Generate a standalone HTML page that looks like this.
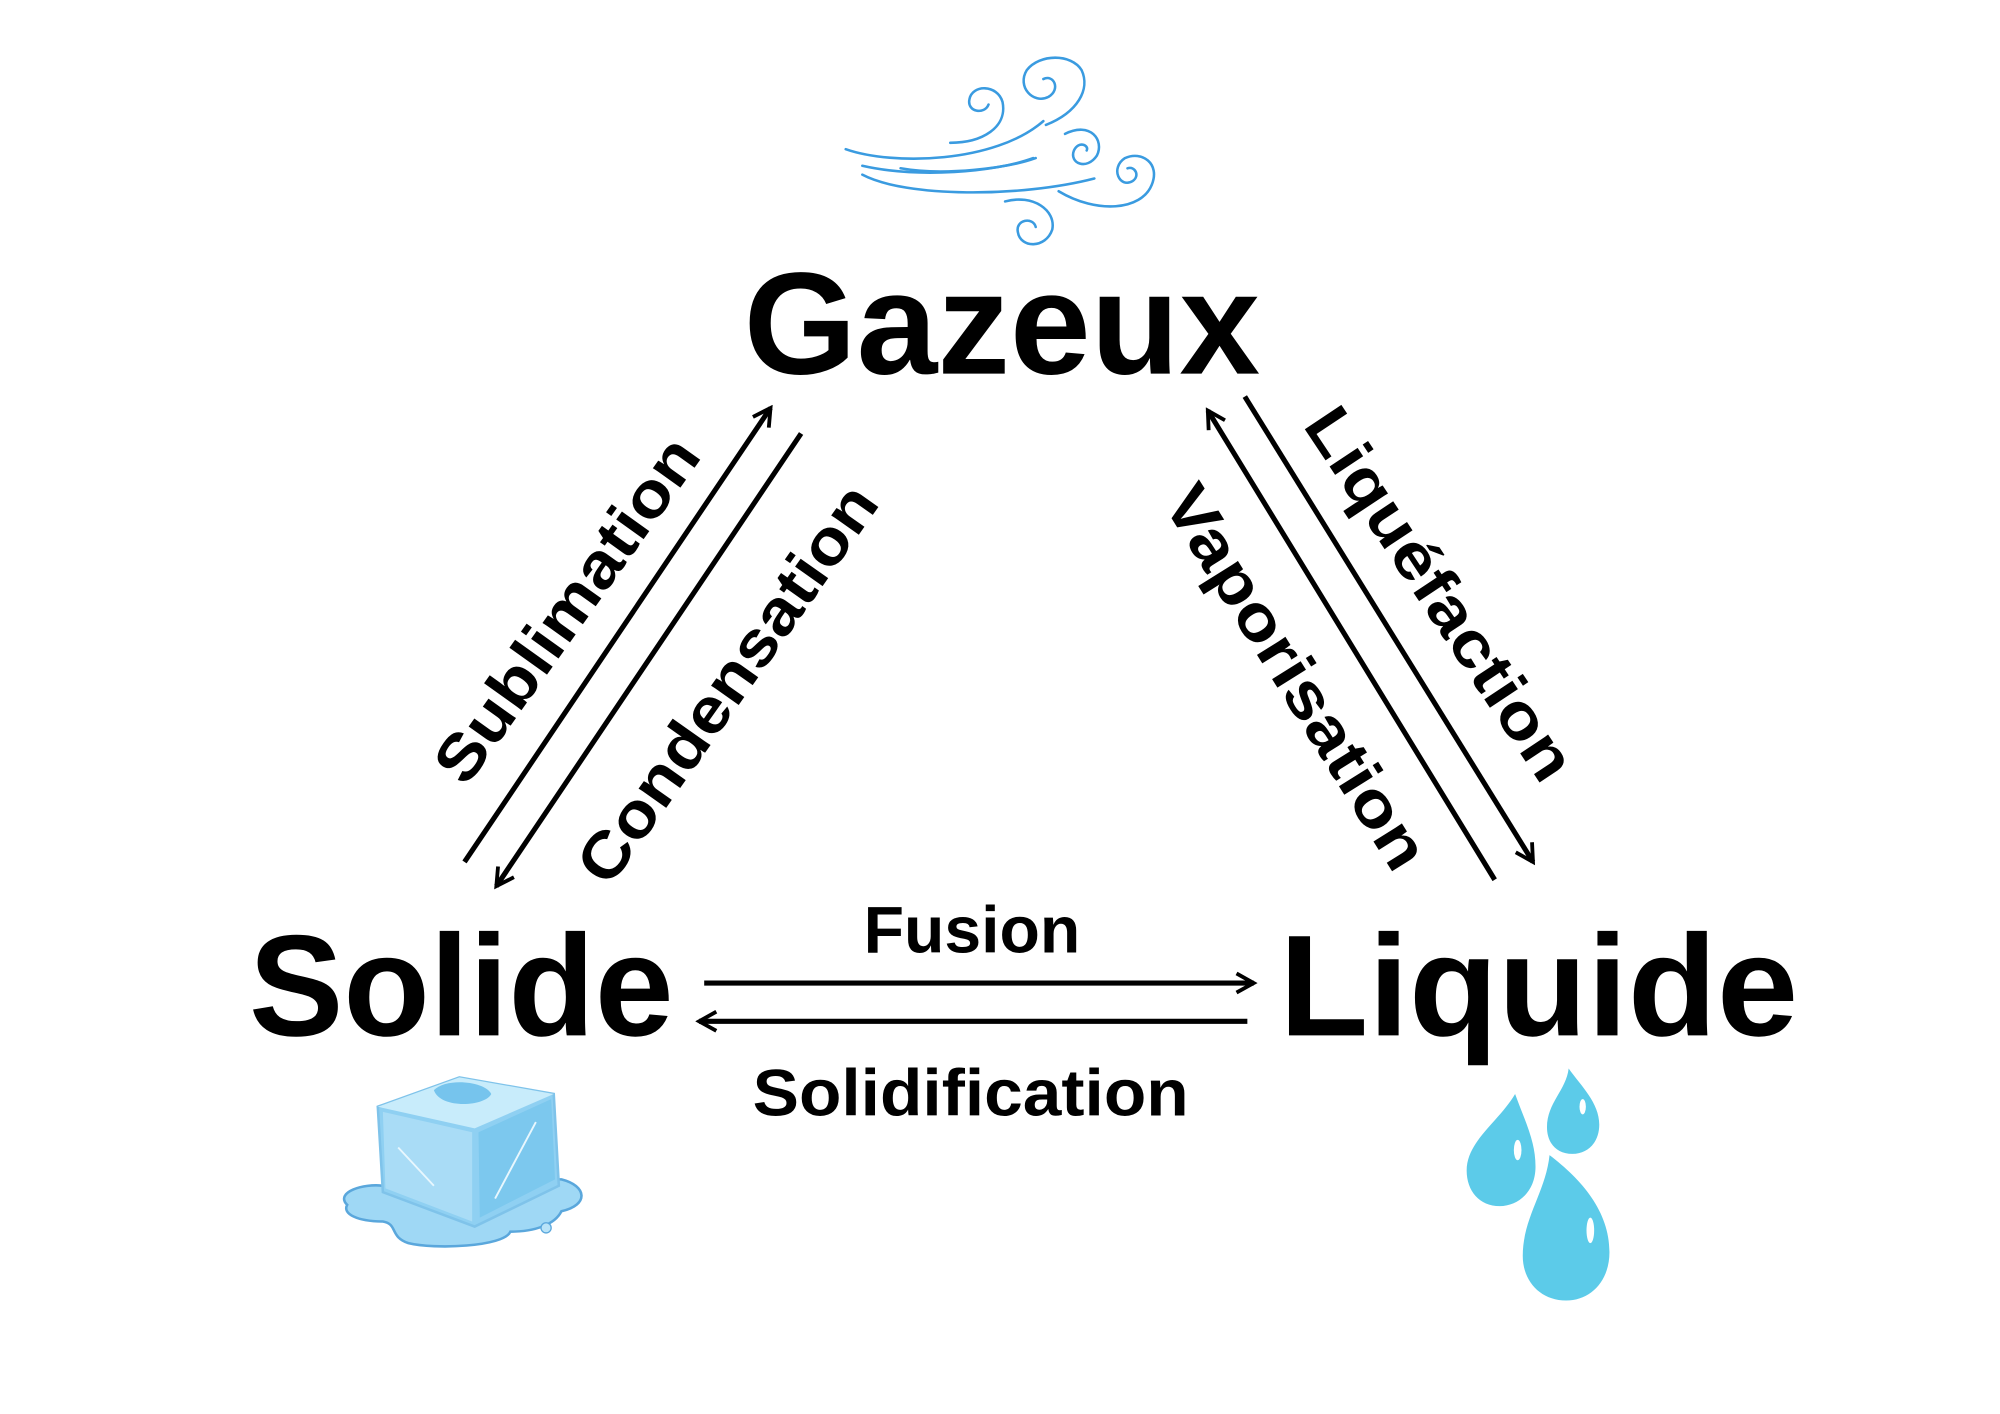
<!DOCTYPE html>
<html><head><meta charset="utf-8"><style>
html,body{margin:0;padding:0;background:#fff;}
svg{display:block;}
text{font-family:"Liberation Sans",sans-serif;font-weight:bold;fill:#000;}
</style></head><body>
<svg width="2000" height="1414" viewBox="0 0 1568 1109" xmlns="http://www.w3.org/2000/svg">
<defs>
<marker id="ah" viewBox="0 0 12 12" refX="10" refY="6" markerWidth="4.5" markerHeight="4.5" orient="auto" markerUnits="strokeWidth">
<path d="M1,1 L10,6 L1,11" fill="none" stroke="#000" stroke-width="2"/>
</marker>
</defs>
<rect width="1568" height="1109" fill="#fff"/>

<!-- wind -->
<g fill="none" stroke="#3a9be0" stroke-width="2" stroke-linecap="round">
<path d="M663,117 C700,130 780,128 818,95"/>
<path d="M676,130 C720,140 780,135 810,124"/>
<path d="M706,132 C740,138 790,132 812,124"/>
<path d="M676,137 C710,155 800,155 858,140"/>
<path d="M745,112 C770,112 790,100 786,80 C782,66 762,66 760,78 C758,88 772,90 775,82"/>
<path d="M820,98 C845,88 855,70 848,55 C840,42 815,42 805,55 C797,68 810,82 822,76 C832,70 826,58 818,62"/>
<path d="M835,105 C855,95 866,110 860,122 C852,134 838,128 842,118 C846,110 854,114 852,118"/>
<path d="M830,150 C860,168 895,165 903,145 C910,128 895,118 882,124 C870,132 878,148 888,142 C894,138 890,130 884,132"/>
<path d="M788,158 C810,152 828,165 825,180 C820,195 800,195 798,182 C796,172 810,170 812,178"/>
</g>

<!-- titles -->
<text x="583" y="293" font-size="114" textLength="405" lengthAdjust="spacingAndGlyphs">Gazeux</text>
<text x="195" y="812" font-size="113" textLength="333" lengthAdjust="spacingAndGlyphs">Solide</text>
<text x="1003" y="812" font-size="113" textLength="407" lengthAdjust="spacingAndGlyphs">Liquide</text>
<text x="677" y="747" font-size="52" textLength="170" lengthAdjust="spacingAndGlyphs">Fusion</text>
<text x="590" y="875" font-size="52" textLength="342" lengthAdjust="spacingAndGlyphs">Solidification</text>

<!-- rotated labels -->
<text font-size="50" text-anchor="middle" transform="translate(458,488) rotate(-54.5)" textLength="320" lengthAdjust="spacingAndGlyphs">Sublimation</text>
<text font-size="50" text-anchor="middle" transform="translate(584,546) rotate(-54.8)" textLength="370" lengthAdjust="spacingAndGlyphs">Condensation</text>
<text font-size="50" text-anchor="middle" transform="translate(1002,540) rotate(58)" textLength="345" lengthAdjust="spacingAndGlyphs">Vaporisation</text>
<text font-size="50" text-anchor="middle" transform="translate(1115,475) rotate(56.4)" textLength="340" lengthAdjust="spacingAndGlyphs">Liquéfaction</text>

<!-- arrows -->
<g stroke="#000" stroke-width="4" fill="none">
<line x1="364" y1="676" x2="604" y2="320" marker-end="url(#ah)"/>
<line x1="628" y1="340" x2="389" y2="695" marker-end="url(#ah)"/>
<line x1="1172" y1="690" x2="947" y2="322" marker-end="url(#ah)"/>
<line x1="976" y1="311" x2="1202" y2="676" marker-end="url(#ah)"/>
<line x1="552" y1="771" x2="983" y2="771" marker-end="url(#ah)"/>
<line x1="978" y1="801" x2="548" y2="801" marker-end="url(#ah)"/>
</g>

<!-- ice cube -->
<g>
<path d="M272,945 C262,935 285,928 300,930 L300,925 L440,925 C460,930 462,945 440,950 C435,960 420,966 400,966 C395,978 340,980 320,975 C305,970 312,960 300,958 C280,958 268,952 272,945 Z" fill="#9fd8f5" stroke="#5aa7dc" stroke-width="2"/>
<path d="M296,868 L360,845 L434,858 L438,930 L372,962 L300,935 Z" fill="#8fd0f2" stroke="#7fc3ea" stroke-width="2"/>
<path d="M296,868 L360,845 L434,858 L372,885 Z" fill="#c8ecfb"/>
<path d="M300,872 L370,888 L370,958 L302,932 Z" fill="#a9dcf6"/>
<path d="M375,888 L432,862 L435,925 L376,955 Z" fill="#7cc8ee"/>
<path d="M340,855 C350,845 380,848 385,858 C380,868 345,870 340,855 Z" fill="#76c4ed"/>
<g stroke="#e8f7fe" stroke-width="1.5"><line x1="312" y1="900" x2="340" y2="930"/><line x1="388" y1="940" x2="420" y2="880"/></g>
<circle cx="428" cy="963" r="4" fill="#b8e3f8" stroke="#5aa7dc"/>
</g>

<!-- drops -->
<g fill="#5ccbe9">
<path d="M1188,858 C1196,880 1204,895 1204,915 C1204,935 1190,946 1176,946 C1160,946 1150,934 1150,918 C1150,895 1175,880 1188,858 Z"/>
<path d="M1230,838 C1240,852 1254,865 1254,882 C1254,896 1245,905 1233,905 C1220,905 1213,896 1213,884 C1213,865 1228,855 1230,838 Z"/>
<path d="M1215,906 C1240,925 1262,950 1262,982 C1262,1005 1247,1020 1228,1020 C1208,1020 1194,1005 1194,985 C1194,955 1212,935 1215,906 Z"/>
</g>
<g fill="#fff"><ellipse cx="1190" cy="902" rx="3" ry="8"/><ellipse cx="1241" cy="868" rx="2.5" ry="6"/><ellipse cx="1247" cy="965" rx="3" ry="10"/></g>
</svg>
</body></html>
